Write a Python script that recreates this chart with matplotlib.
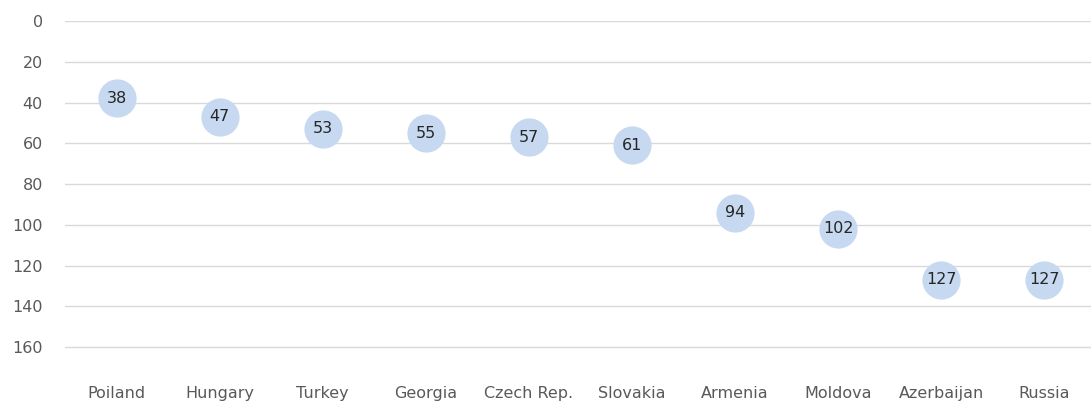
import numpy as np
import matplotlib.pyplot as plt

countries = ['Poiland', 'Hungary', 'Turkey', 'Georgia', 'Czech Rep.',
             'Slovakia', 'Armenia', 'Moldova', 'Azerbaijan', 'Russia']
ranks = [38, 47, 53, 55, 57, 61, 94, 102, 127, 127]
yticks = [0, 20, 40, 60, 80, 100, 120, 140, 160]

plt.rcParams['font.family'] = ['DejaVu Sans']

W, H = 1091, 405
fig = plt.figure(figsize=(W / 100, H / 100), dpi=100)
# plot area in pixels: left 65, right 1096, top 21 (value 0), bottom 367 (value 170)
ax = fig.add_axes([65 / W, (H - 367.4) / H, 1031 / W, 346.4 / H])

x = np.arange(len(countries))
ax.plot(x, ranks, linestyle='none', marker='o', markersize=27.5,
        markerfacecolor='#c6d9f0', markeredgecolor='none', zorder=3)
for xi, v in zip(x, ranks):
    ax.text(xi, v, str(v), ha='center', va='center', fontsize=11.5,
            color='#262626', zorder=4)

ax.set_xlim(-0.5, len(countries) - 0.5)
ax.set_ylim(170, 0)
ax.set_yticks(yticks)
ax.set_xticks(x)
ax.set_xticklabels(countries)
ax.grid(axis='y', color='#d9d9d9', linewidth=1)
ax.set_axisbelow(True)
for s in ax.spines.values():
    s.set_visible(False)
ax.tick_params(axis='y', length=0, pad=16, labelsize=11.5, labelcolor='#595959')
ax.tick_params(axis='x', length=0, pad=13.5, labelsize=11.5, labelcolor='#595959')

fig.savefig('out.png', dpi=100)
